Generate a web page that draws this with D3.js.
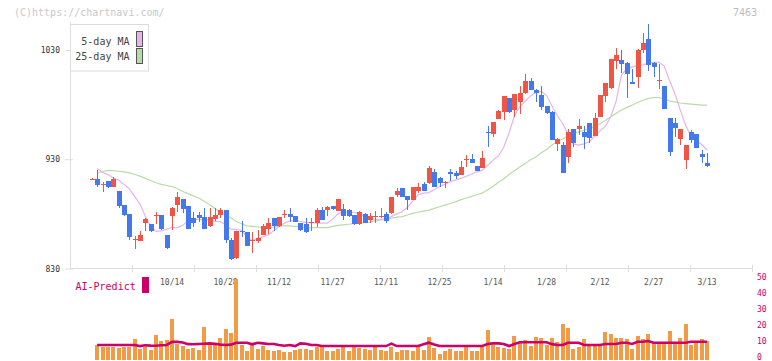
<!DOCTYPE html>
<html><head><meta charset="utf-8">
<script src="https://cdn.jsdelivr.net/npm/d3@7/dist/d3.min.js"></script>
<style>
body{margin:0;background:#fff}
svg{display:block}
text{font-family:"DejaVu Sans Mono","Liberation Mono",monospace}
</style>
</head><body>
<svg id="chart" width="772" height="361"></svg>
<script>
// ---- data (index k = trading day, 0..115) ----
const openP  = [911,911.5,906,910,905,901,888,880,856,855.5,872,870.5,878.5,879,861,878,888,893.5,887,876,879,877.5,868.5,875.5,879,883.5,856,839.5,864,863,855.5,855.5,861,866,876.5,868.5,879,879.5,878,872,871,871.5,872,884,883.5,887,883,884.5,884,879,870.5,880,874.5,878,877,880,880.5,897,903.5,896,893,901,907,908,918.5,913,909,918.5,917.7,915.5,929.5,930.5,924,922,955,953,967,973.5,986,975,982,990.5,1001.5,993.5,989,978.5,973.5,944,943,932.5,957.5,957.5,955,963,951.5,969,988,995,1020,1021,1018.5,1001,1005,1030,1040,1018,1002,997,968,963.5,948.5,929.5,955,953,935,927];
const highP  = [913,920,909.5,910,913.5,901,888.5,880,860,864,876,870.5,882,879,861,886,900,894,887,881.5,882,885.5,885.5,885.5,885.5,883.5,857.5,864.5,873.5,863.5,863.5,865,870.5,876.5,876.5,877.5,883.5,885,878.5,872,876.5,876,885,886.5,887,887.5,893.5,889,884.5,879,882.5,881,880.5,883,885.5,881.5,895.5,903.5,904,896,904.5,908.5,909.5,923.8,920.8,913.5,910.5,920.8,919,928.5,934,934.5,924,938,960.5,964.5,975,988,986.5,990,997,1008,1004.5,994,997,979,974,949,946,957.5,958,966.5,960.5,963,972.5,989,1000,1022,1032,1030,1019,1012.5,1031,1045.5,1054,1019,1017,997,968,968,958,943,957,953,938.5,936];
const lowP   = [911,905,900,903.5,905,885,878.5,856,848,855,864,863,871,865,847.5,865,882,880.5,866,868,873,866,868,873.5,876.5,853.5,838,839,859,850.5,844,853,860.5,862,864,868,876,873,872.5,864,862.5,864.5,868,874.5,878,884,882.5,874.5,877,870,870,871.5,871.5,872,876.5,872,880,895.5,895,883.5,892.5,899,901,907,904.5,904.9,904,910.4,912,915.5,922.5,926.5,919.5,922,941.5,950.5,966.5,966,972,969,971.5,990,993,982,975.5,971.5,947.5,938,917.5,927,941.5,952,939,944.5,951,968.5,982.5,994.5,1012.5,1008.5,986.5,999,995.5,1027.5,1011,1005.5,994.5,976,933,950,943,921,945,940.5,927,923];
const closeP = [912,906,907.5,904.5,912,887.5,879,859,857,860.5,875.5,864,879,866,849,885.5,895.5,884.5,866,872,876.5,866,877,879,883.5,856,838.5,864.5,863,850.5,856,858,868.5,872,868.5,877,879.5,877.5,873,865,863,872.5,884,874.5,886.5,884.5,893.5,878.5,878,870.5,882,872,878,878.5,878.5,873.5,895,901,895,893,904.5,904.5,901,922,904.5,908,909.5,916.5,914.7,922.5,930,927,919.5,931.5,954,964.5,974,987.5,973.5,989.5,990.5,1001.5,993.5,991,978,972,947.5,948.5,917.5,955,945,960,950,949,968,989,999.5,1021.5,1025.5,1017,1008,999,1030,1036,1016.5,1014.5,1002.5,976,937,959,957.5,943,948,940.5,932.5,924];
const ma5    = [null,921.5,918,916,913,911,907,903,896,889,878,869,864,864.5,866,867.5,867.5,869.5,874,875,875,874.5,874.5,873,873,870,866,865.5,865,859,855.5,857.5,859,861,864.5,868.5,871.5,873.5,874,873,872,872,871.5,871.5,871.5,875,880,882,881.5,881.5,880,877.5,874.5,874.5,875,875.5,877.5,880,882,886,892,897.5,899,899.5,902,905,907,909.5,911,912.5,914.5,916.5,918.5,920,924.5,929,933,941,954,970,978,983,988,991,992,988.5,979,970,963,953,944,943,944,946,951,956,960,969,983,1007,1013,1014.5,1015.5,1016.5,1018,1018.5,1019,1015,1002,990,975,961,951,947,943.5,938.5];
const ma25   = [null,917,919,919.5,919.5,919,918.5,917.5,916,914.5,912.5,910.5,908.5,907,906,905,903,900.5,898.5,896.5,894.5,891.5,888.5,885,881.5,879,876.5,873,871,869,868.5,868,867.5,867.5,868,868.5,869,869,868.5,868,867.5,867.5,867.5,867.5,867.5,868.5,869.5,870,870.5,871,871.5,872,872.5,873.5,874.5,875,876,877,877.5,879,880.5,881.5,882.5,883.5,885,886.5,888,889.5,891,893,894.5,896,897.5,899,902,905,909,912,916,919.5,923,926,929.5,932,936,939,943,946,948.5,951.5,953.5,955,956.5,958,960,962.5,965.5,969,972,975,977.5,979.5,982,984,985.5,986.5,986.5,985,983.5,982.5,981.5,981,980.5,980,979.5,979.5];
const volume = [null,8.5,7.4,7.4,7.4,6.4,7.4,7.4,12.2,6.0,7.4,5.3,14.8,11.2,11.6,24.8,9.1,7.8,6.0,6.8,5.3,19.8,8.5,8.5,12.9,18.5,16.2,50,8.5,4.9,8.5,6.0,7.8,5.3,4.9,5.3,4.3,4.3,5.3,6.0,6.0,5.3,7.4,7.0,4.7,4.7,6.0,7.0,4.7,7.0,6.4,6.0,5.3,7.0,5.3,4.7,7.4,4.3,5.3,5.3,4.7,7.0,5.3,13.7,6.8,2.8,4.7,6.0,4.7,4.7,7.0,4.7,4.7,7.0,17.9,8.5,7.4,6.8,6.0,14.1,10.5,11.6,7.8,13.7,12.9,8.5,12.7,10.5,21.7,19.1,6.0,7.0,12.2,8.5,8.5,8.5,16.6,15.4,12.9,12.9,12.2,6.0,14.1,12.2,15.4,9.5,9.5,9.5,17.3,9.5,12.9,21.7,8.5,9.5,12.2,10.8];
const aiPredict = [null,8.5,8.5,8.5,8.5,8.5,8.5,8.5,8.5,7.8,8.3,8.1,8.0,8.3,8.5,10.4,10.4,10.0,9.0,8.9,9.1,9.3,9.5,9.2,8.7,8.5,8.7,9.9,9.9,9.9,8.9,9.9,9.5,9.1,9.1,8.5,8.0,8.5,7.8,9.5,9.3,8.5,8.5,7.8,7.8,7.8,7.8,7.8,7.8,7.8,7.8,7.8,7.8,7.8,7.8,7.8,9.3,7.8,7.8,7.8,7.8,7.8,9.0,9.9,8.8,7.8,7.8,7.8,7.8,7.8,7.8,7.8,7.8,7.8,9.1,9.5,9.5,9.1,7.8,9.1,10.2,10.2,10.2,10.2,10.2,10.2,9.0,8.5,8.5,9.9,9.9,9.9,8.5,8.5,8.5,8.5,9.1,9.1,9.1,9.9,9.9,9.1,10.5,10.5,11.0,9.9,9.9,9.9,9.9,9.9,9.9,9.9,10.5,10.5,10.5,10.5];
const dateTickIndex = [15,25,35,45,55,65,75,85,95,105,115];
const dateTickLabels = ["10/14","10/28","11/12","11/27","12/11","12/25","1/14","1/28","2/12","2/27","3/13"];
const priceTicks = [830,930,1030];
const volumeTicks = [0,10,20,30,40,50];
const legendLabels = ["5-day MA","25-day MA"];

// ---- drawing ----
const svg = d3.select("#chart");
const C = {up:"#f05444", down:"#4479ee", ma5:"#e8b2ea", ma25:"#b8dca8", vol:"#f29a44", ai:"#cc0066", axis:"#dedede"};

const x = d3.scaleLinear().domain([0,115]).range([91.8,707.05]);
const y = d3.scaleLinear().domain([830,1030]).range([268.5,50]);
const yv = d3.scaleLinear().domain([0,50]).range([358.5,278.8]);
const gridX = d3.scaleLinear().domain([0,11]).range([70,752]);

svg.append("rect").attr("width",772).attr("height",361).attr("fill","#fff");

// watermark + code
svg.append("text").attr("x",14).attr("y",12.5).attr("dy","0.35em").attr("font-size",10)
  .attr("fill","#c8c8c8").text("(C)https://chartnavi.com/");
svg.append("text").attr("x",757).attr("y",12.5).attr("dy","0.35em").attr("font-size",10)
  .attr("text-anchor","end").attr("fill","#bdbdbd").text("7463");

// axes lines
const ax = svg.append("g").attr("shape-rendering","crispEdges").attr("stroke",C.axis);
ax.append("line").attr("x1",70.5).attr("x2",70.5).attr("y1",22).attr("y2",268.5);
ax.append("line").attr("x1",70).attr("x2",752).attr("y1",268.5).attr("y2",268.5);
ax.selectAll("line.gt").data(d3.range(1,12)).join("line").attr("class","gt")
  .attr("x1",d=>Math.round(gridX(d))+0.5).attr("x2",d=>Math.round(gridX(d))+0.5)
  .attr("y1",265).attr("y2",272);

// left price axis
const la = svg.append("g").attr("transform","translate(70,0)")
  .call(d3.axisLeft(y).tickValues(priceTicks).tickSize(5).tickPadding(5).tickFormat(d3.format("d")));
la.select(".domain").remove();
la.selectAll("line").attr("stroke",C.axis).attr("x2",-5).attr("x1",3);
la.selectAll("text").attr("font-size",8).attr("fill","#333").attr("font-family","DejaVu Sans Mono");

// date labels
svg.append("g").selectAll("text").data(dateTickIndex).join("text")
  .attr("x",d=>x(d)).attr("y",282).attr("dy","0.35em").attr("text-anchor","middle")
  .attr("font-size",8).attr("fill","#555").text((d,i)=>dateTickLabels[i]);

// MA lines
const lineGen = arr => d3.line().defined(d=>d!=null).x((d,i)=>x(i)).y(d=>y(d))(arr);
svg.append("path").attr("d",lineGen(ma25)).attr("fill","none").attr("stroke",C.ma25).attr("stroke-width",1.2);
svg.append("path").attr("d",lineGen(ma5)).attr("fill","none").attr("stroke",C.ma5).attr("stroke-width",1.2);

// candles
const idx = d3.range(openP.length);
const cg = svg.append("g").attr("shape-rendering","crispEdges");
cg.selectAll("line").data(idx).join("line")
  .attr("x1",k=>Math.round(x(k))+0.5).attr("x2",k=>Math.round(x(k))+0.5)
  .attr("y1",k=>y(highP[k])).attr("y2",k=>y(lowP[k]))
  .attr("stroke",k=>closeP[k]>=openP[k]?C.up:C.down).attr("stroke-width",1);
cg.selectAll("rect").data(idx).join("rect")
  .attr("x",k=>Math.round(x(k))-2).attr("width",5)
  .attr("y",k=>y(Math.max(openP[k],closeP[k])))
  .attr("height",k=>Math.max(1,Math.abs(y(openP[k])-y(closeP[k]))))
  .attr("fill",k=>closeP[k]>=openP[k]?C.up:C.down);

// legend
const lg = svg.append("g");
lg.append("rect").attr("x",70.5).attr("y",24.5).attr("width",78).attr("height",46.5)
  .attr("fill","#fff").attr("stroke","#dcdcdc");
lg.selectAll("text").data(legendLabels).join("text")
  .attr("x",129.5).attr("y",(d,i)=>41.7+i*15).attr("dy","0.35em").attr("text-anchor","end")
  .attr("font-size",10).attr("fill","#444").text(d=>d);
lg.selectAll("rect.sw").data([C.ma5,C.ma25]).join("rect").attr("class","sw")
  .attr("x",136.5).attr("y",(d,i)=>31.5+i*17).attr("width",6).attr("height",15)
  .attr("fill",d=>d).attr("stroke","#555").attr("shape-rendering","crispEdges");

// AI-Predict legend
svg.append("text").attr("x",75.5).attr("y",286).attr("dy","0.35em").attr("font-size",10)
  .attr("fill",C.ai).text("AI-Predict");
svg.append("rect").attr("x",142).attr("y",277).attr("width",7).attr("height",16).attr("fill",C.ai);

// volume bars
svg.append("g").attr("shape-rendering","crispEdges").selectAll("rect")
  .data(idx.filter(k=>volume[k]!=null)).join("rect")
  .attr("x",k=>Math.round(x(k))-2).attr("width",4)
  .attr("y",k=>yv(volume[k])).attr("height",k=>359.5-yv(volume[k]))
  .attr("fill",C.vol);

// AI line
svg.append("path").attr("d",d3.line().defined(d=>d!=null).x((d,i)=>x(i)).y(d=>yv(d))(aiPredict))
  .attr("fill","none").attr("stroke",C.ai).attr("stroke-width",2.6);

// right volume axis
const ra = svg.append("g").attr("transform","translate(752,0)")
  .call(d3.axisRight(yv).tickValues(volumeTicks).tickSize(0).tickPadding(5));
ra.select(".domain").remove();
ra.selectAll("text").attr("font-size",8).attr("fill",C.ai).attr("font-family","DejaVu Sans Mono")
  .attr("dy","0.3em").attr("y",-1.5);
</script>
</body></html>
